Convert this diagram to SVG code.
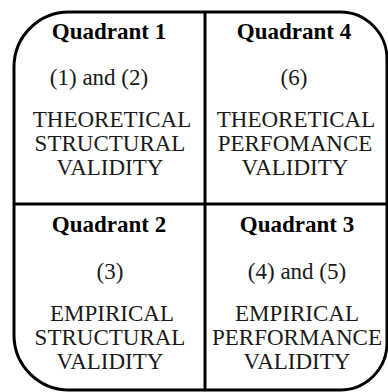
<svg xmlns="http://www.w3.org/2000/svg" width="388" height="392" viewBox="0 0 388 392">
<style>
.frame{fill:none;stroke:#000;stroke-width:3}
.t{font-family:'Liberation Serif','DejaVu Serif',serif;font-size:23px;fill:#1a1a1a;text-anchor:middle}
.h{font-weight:bold;fill:#000}
</style>
<rect width="388" height="392" fill="#fff"/>
<g id="frame">
<path class="frame" d="M14 67 A55 55 0 0 1 69 12 L340 12 A47 47 0 0 1 387 59 L387 343 A47 47 0 0 1 340 390 L69 390 A55 55 0 0 1 14 335 Z"/>
</g>
<g id="connectors">
<line class="frame" x1="205" y1="12" x2="205" y2="390"/>
<line class="frame" x1="14" y1="204" x2="387" y2="204"/>
</g>
<g id="q1" font-family="Liberation Serif">
<text class="t h" x="109" y="39">Quadrant 1</text>
<text class="t" x="99" y="85">(1) and (2)</text>
<text class="t" x="112" y="127">THEORETICAL</text>
<text class="t" x="110" y="151">STRUCTURAL</text>
<text class="t" x="110" y="175">VALIDITY</text>
</g>
<g id="q4">
<text class="t h" x="294" y="39">Quadrant 4</text>
<text class="t" x="294" y="85">(6)</text>
<text class="t" x="296" y="127">THEORETICAL</text>
<text class="t" x="295" y="151">PERFOMANCE</text>
<text class="t" x="295" y="175">VALIDITY</text>
</g>
<g id="q2">
<text class="t h" x="109" y="232">Quadrant 2</text>
<text class="t" x="110" y="279">(3)</text>
<text class="t" x="112" y="321">EMPIRICAL</text>
<text class="t" x="110" y="345">STRUCTURAL</text>
<text class="t" x="110" y="369">VALIDITY</text>
</g>
<g id="q3">
<text class="t h" x="297" y="232">Quadrant 3</text>
<text class="t" x="297" y="279">(4) and (5)</text>
<text class="t" x="297" y="321">EMPIRICAL</text>
<text class="t" x="297" y="345">PERFORMANCE</text>
<text class="t" x="297" y="369">VALIDITY</text>
</g>
</svg>
